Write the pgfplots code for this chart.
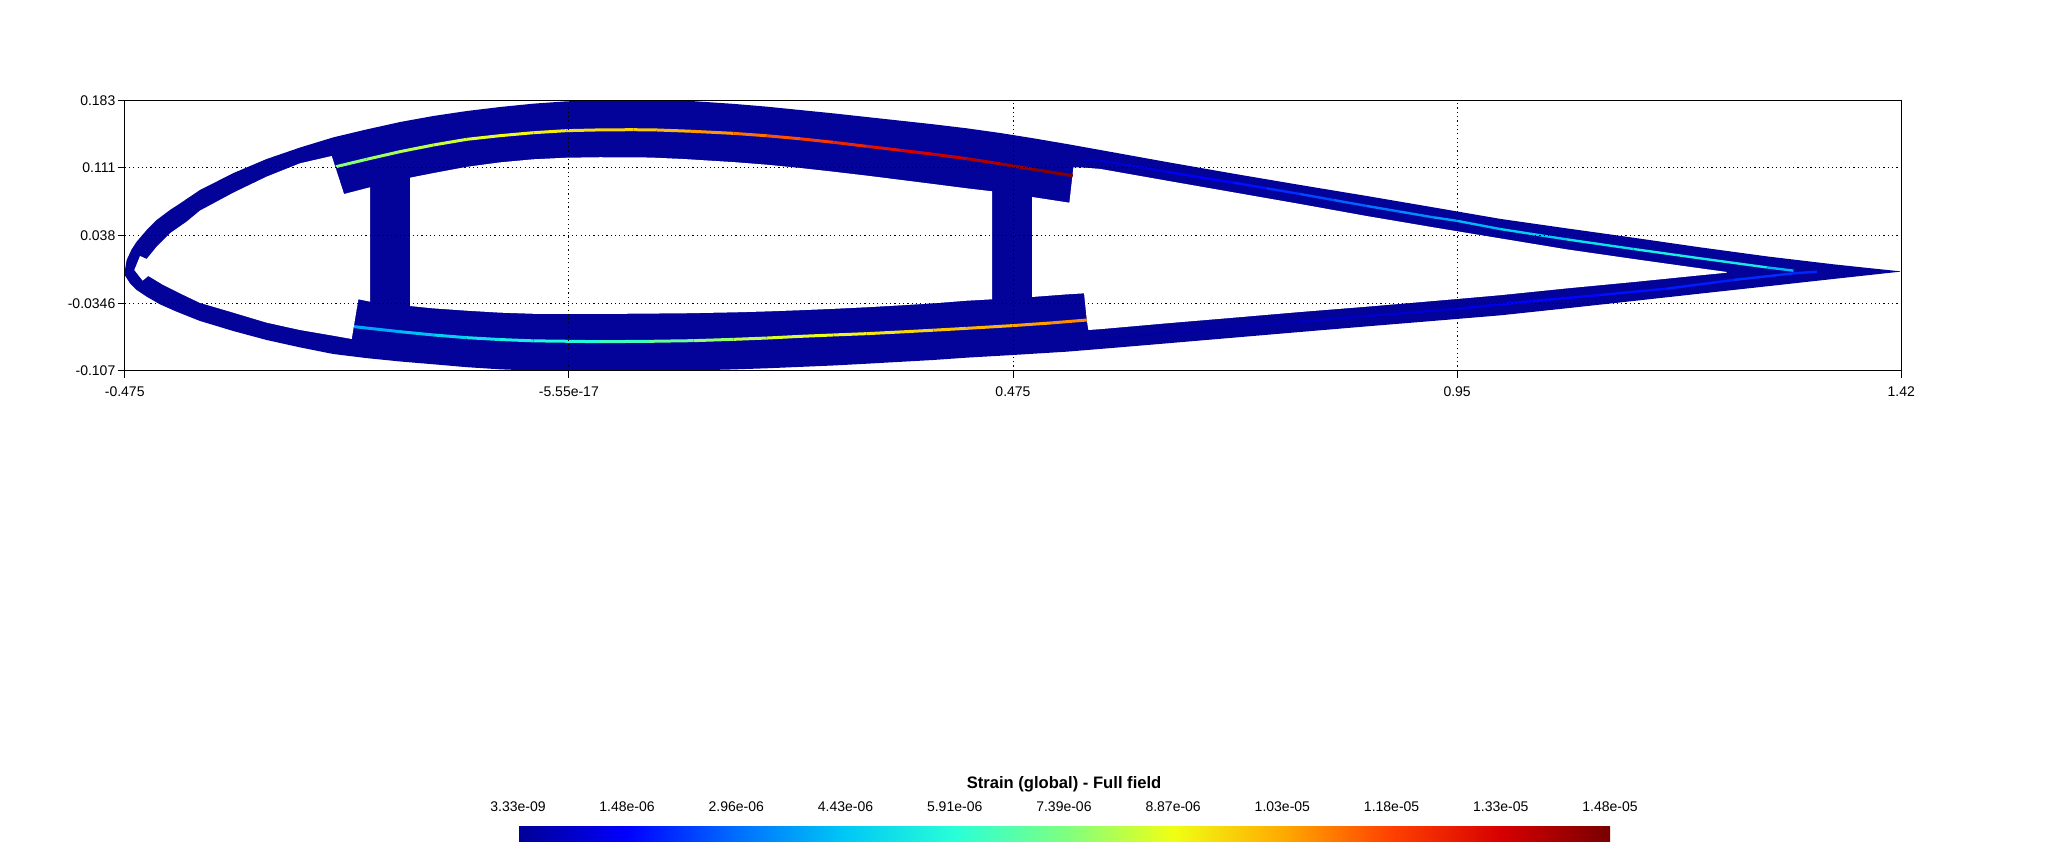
\documentclass[border=0pt]{standalone}
\usepackage{fontspec}
\setmainfont{Liberation Sans}
\usepackage{pgfplots}
\pgfplotsset{compat=1.18}
\definecolor{body}{RGB}{3,3,153}

% outer profile of the section
\pgfplotstableread{
x y
-0.4750 -0.0006
-0.4729 0.0119
-0.4676 0.0233
-0.4622 0.0315
-0.4515 0.0440
-0.4408 0.0548
-0.4266 0.0655
-0.4194 0.0701
-0.3945 0.0869
-0.3588 0.1050
-0.3232 0.1201
-0.2875 0.1324
-0.2519 0.1433
-0.2162 0.1518
-0.1806 0.1597
-0.1449 0.1662
-0.1092 0.1715
-0.0736 0.1758
-0.0379 0.1794
-0.0023 0.1819
0.0334 0.1830
0.1314 0.1822
0.1759 0.1792
0.2116 0.1762
0.2472 0.1726
0.2829 0.1690
0.3185 0.1651
0.3542 0.1612
0.3898 0.1573
0.4255 0.1530
0.4611 0.1480
0.4968 0.1423
0.5325 0.1362
0.5681 0.1298
0.6394 0.1169
0.7107 0.1044
0.7820 0.0923
0.8533 0.0805
0.9246 0.0683
0.9959 0.0560
1.0672 0.0458
1.1385 0.0358
1.2098 0.0255
1.2811 0.0158
1.3524 0.0073
1.3881 0.0035
1.4237 -0.0002
1.4237 -0.0006
1.3881 -0.0045
1.3524 -0.0084
1.2811 -0.0163
1.2098 -0.0241
1.1385 -0.0320
1.0672 -0.0398
0.9959 -0.0474
0.9492 -0.0513
0.8533 -0.0592
0.7820 -0.0652
0.7107 -0.0713
0.6394 -0.0774
0.5681 -0.0834
0.5325 -0.0863
0.4743 -0.0899
0.4255 -0.0927
0.3898 -0.0952
0.3542 -0.0972
0.3185 -0.0992
0.2829 -0.1011
0.2472 -0.1026
0.2116 -0.1041
0.1759 -0.1053
0.1367 -0.1063
0.0690 -0.1070
0.0334 -0.1070
-0.0379 -0.1066
-0.0736 -0.1052
-0.1092 -0.1029
-0.1449 -0.0998
-0.1806 -0.0968
-0.2162 -0.0932
-0.2519 -0.0888
-0.2875 -0.0817
-0.3232 -0.0738
-0.3588 -0.0642
-0.3945 -0.0534
-0.4016 -0.0506
-0.4194 -0.0435
-0.4372 -0.0356
-0.4515 -0.0274
-0.4622 -0.0202
-0.4693 -0.0131
-0.4750 -0.0042
}\outer

% the three open cells
\pgfplotstableread{
x y
-0.2536 0.1233
-0.2404 0.0826
-0.2126 0.0898
-0.2126 -0.0327
-0.2251 -0.0302
-0.2322 -0.0727
-0.2519 -0.0692
-0.2875 -0.0631
-0.3232 -0.0552
-0.3588 -0.0445
-0.3945 -0.0340
-0.4159 -0.0238
-0.4337 -0.0149
-0.4497 -0.0052
-0.4558 -0.0102
-0.4647 0.0012
-0.4586 0.0162
-0.4515 0.0130
-0.4408 0.0262
-0.4266 0.0405
-0.4087 0.0530
-0.3945 0.0648
-0.3588 0.0840
-0.3232 0.1012
-0.2875 0.1155
}\cellleft

\pgfplotstableread{
x y
-0.1698 0.1001
-0.1449 0.1050
-0.1092 0.1117
-0.0736 0.1165
-0.0379 0.1198
-0.0023 0.1215
0.0334 0.1220
0.0868 0.1217
0.1225 0.1201
0.1759 0.1168
0.2116 0.1140
0.2472 0.1105
0.2829 0.1065
0.3185 0.1023
0.3542 0.0978
0.3898 0.0933
0.4255 0.0887
0.4526 0.0855
0.4526 -0.0302
0.4255 -0.0317
0.3898 -0.0345
0.3542 -0.0367
0.3185 -0.0387
0.2829 -0.0404
0.2472 -0.0419
0.2116 -0.0432
0.1759 -0.0442
0.1225 -0.0452
0.0334 -0.0459
-0.0379 -0.0457
-0.0736 -0.0445
-0.1092 -0.0424
-0.1449 -0.0399
-0.1698 -0.0374
}\cellmid

\pgfplotstableread{
x y
0.4954 0.0794
0.5353 0.0733
0.5396 0.1112
0.5467 0.1112
0.5681 0.1095
0.6394 0.0969
0.7107 0.0844
0.7820 0.0719
0.8533 0.0590
0.9246 0.0469
0.9959 0.0351
1.0672 0.0233
1.1385 0.0130
1.2098 0.0030
1.2383 -0.0009
1.2383 -0.0017
1.2098 -0.0045
1.1385 -0.0117
1.0672 -0.0185
0.9959 -0.0258
0.9492 -0.0299
0.8533 -0.0381
0.7820 -0.0438
0.7107 -0.0499
0.6394 -0.0559
0.5681 -0.0622
0.5556 -0.0631
0.5539 -0.0524
0.5510 -0.0238
0.5325 -0.0249
0.4954 -0.0277
}\cellright

% strain along the mid lines
\pgfplotstableread{
x y s
-0.2490 0.1119 7.40e-6
-0.2162 0.1198 7.70e-6
-0.1805 0.1280 7.99e-6
-0.1449 0.1351 8.29e-6
-0.1092 0.1412 8.58e-6
-0.0736 0.1451 8.88e-6
-0.0379 0.1483 9.03e-6
-0.0023 0.1505 9.32e-6
0.0334 0.1513 9.62e-6
0.0690 0.1515 9.77e-6
0.0940 0.1512 9.92e-6
0.1296 0.1499 10.36e-6
0.1759 0.1476 10.95e-6
0.2116 0.1450 11.40e-6
0.2472 0.1418 11.84e-6
0.2829 0.1380 12.28e-6
0.3185 0.1337 12.73e-6
0.3542 0.1295 13.17e-6
0.3898 0.1252 13.47e-6
0.4255 0.1205 13.76e-6
0.4611 0.1150 14.21e-6
0.4968 0.1090 14.50e-6
0.5389 0.1022 14.80e-6
}\capupper

\pgfplotstableread{
x y s
-0.2297 -0.0595 3.70e-6
-0.1805 -0.0649 4.14e-6
-0.1449 -0.0684 4.44e-6
-0.1092 -0.0713 4.88e-6
-0.0736 -0.0733 5.33e-6
-0.0379 -0.0747 5.62e-6
0.0334 -0.0756 5.92e-6
0.0868 -0.0752 6.66e-6
0.1332 -0.0745 7.40e-6
0.1759 -0.0731 7.99e-6
0.2116 -0.0717 8.44e-6
0.2472 -0.0699 8.73e-6
0.2829 -0.0684 8.88e-6
0.3185 -0.0670 9.18e-6
0.3542 -0.0652 9.47e-6
0.3898 -0.0633 9.77e-6
0.4255 -0.0613 10.06e-6
0.4743 -0.0584 10.36e-6
0.5146 -0.0556 10.66e-6
0.5539 -0.0524 10.95e-6
}\caplower

\pgfplotstableread{
x y s
0.5503 0.1190 0.44e-6
0.5681 0.1183 0.74e-6
0.6037 0.1126 0.89e-6
0.6394 0.1065 1.18e-6
0.6750 0.1005 1.48e-6
0.7107 0.0948 1.48e-6
0.7463 0.0887 1.92e-6
0.7820 0.0826 2.22e-6
0.8177 0.0762 2.66e-6
0.8533 0.0698 2.96e-6
0.8890 0.0637 3.26e-6
0.9246 0.0576 3.70e-6
0.9492 0.0540 3.85e-6
0.9959 0.0451 4.44e-6
1.0672 0.0340 4.74e-6
1.1385 0.0237 5.33e-6
1.2098 0.0137 5.62e-6
1.2811 0.0040 5.03e-6
1.3096 0.0005 3.26e-6
}\rearupper

\pgfplotstableread{
x y s
1.3346 -0.0006 1.78e-6
1.3096 -0.0024 2.22e-6
1.2454 -0.0095 1.92e-6
1.1742 -0.0188 1.78e-6
1.1029 -0.0256 1.63e-6
1.0316 -0.0320 1.48e-6
0.9959 -0.0356 1.41e-6
0.9492 -0.0406 0.89e-6
0.8533 -0.0481 0.74e-6
0.7820 -0.0542 0.44e-6
0.7107 -0.0602 0.30e-6
0.6394 -0.0663 0.15e-6
0.5681 -0.0727 0.07e-6
}\rearlower

\begin{document}
\begin{tikzpicture}
\path[use as bounding box] (0,0) rectangle (1029pt,426.5pt);
\begin{axis}[
    at={(62.35pt,241pt)},
    anchor=south west,
    scale only axis,
    width=888.3pt,
    height=135.35pt,
    xmin=-0.475, xmax=1.425,
    ymin=-0.107, ymax=0.183,
    xtick={-0.475,0,0.475,0.95,1.425},
    xticklabels={-0.475,-5.55e-17,0.475,0.95,1.42},
    ytick={-0.107,-0.0345,0.038,0.1105,0.183},
    yticklabels={-0.107,-0.0346,0.038,0.111,0.183},
    xtick pos=bottom,
    ytick pos=left,
    tick align=outside,
    major tick length=3.5pt,
    tick style={black,line width=0.5pt},
    axis line style={line width=0.5pt},
    tick label style={font=\fontsize{7}{8}\selectfont,inner sep=0pt},
    xticklabel shift=4.3pt,
    yticklabel shift=1pt,
    grid=major,
    grid style={black,line width=0.5pt,dash pattern=on 0.6pt off 1.55pt},
    axis on top,
    no markers,
    colormap={fem}{rgb255=(0,0,150) rgb255=(0,0,255) rgb255=(0,110,255) rgb255=(0,200,245)
        rgb255=(40,255,215) rgb255=(125,255,130) rgb255=(240,255,20) rgb255=(255,170,0)
        rgb255=(255,64,0) rgb255=(215,0,0) rgb255=(120,0,0)},
    point meta min=3.33e-9,
    point meta max=1.48e-5,
    colorbar horizontal,
    colorbar style={
        at={(0.2214,-1.6835)},
        anchor=north west,
        scale only axis,
        width=546pt,
        height=7.5pt,
        xtick={3.33e-9,1.48e-6,2.96e-6,4.44e-6,5.92e-6,7.40e-6,8.88e-6,1.036e-5,1.184e-5,1.332e-5,1.48e-5},
        xticklabels={3.33e-09,1.48e-06,2.96e-06,4.43e-06,5.91e-06,7.39e-06,8.87e-06,1.03e-05,1.18e-05,1.33e-05,1.48e-05},
        xticklabel pos=upper,
        xtick pos=upper,
        major tick length=0pt,
        tick style={draw=none},
        axis line style={draw=none},
        grid=none,
        scaled x ticks=false,
        xticklabel shift=7.5pt,
        every axis title shift=0pt,
        title={\fontsize{8.3}{9.5}\selectfont\bfseries Strain (global) - Full field},
        title style={at={(0.5,1)},anchor=base,inner sep=0pt,yshift=19.35pt},
    },
]
\addplot[fill=body,draw=none,forget plot] table[x=x,y=y] {\outer};
\addplot[fill=white,draw=none,forget plot] table[x=x,y=y] {\cellleft};
\addplot[fill=white,draw=none,forget plot] table[x=x,y=y] {\cellmid};
\addplot[fill=white,draw=none,forget plot] table[x=x,y=y] {\cellright};
\addplot[mesh,line width=1.5pt,point meta=\thisrow{s},forget plot] table[x=x,y=y] {\capupper};
\addplot[mesh,line width=1.5pt,point meta=\thisrow{s},forget plot] table[x=x,y=y] {\caplower};
\addplot[mesh,line width=1.2pt,point meta=\thisrow{s},forget plot] table[x=x,y=y] {\rearupper};
\addplot[mesh,line width=1.2pt,point meta=\thisrow{s},forget plot] table[x=x,y=y] {\rearlower};
\end{axis}
\end{tikzpicture}
\end{document}
